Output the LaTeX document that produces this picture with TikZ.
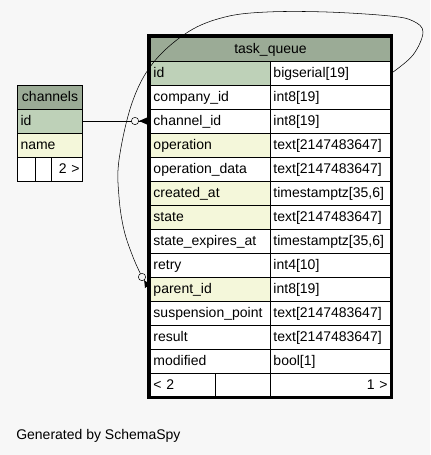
\documentclass[tikz,border=0pt]{standalone}
\usepackage{fontspec}
\setmainfont{Liberation Sans}
\usetikzlibrary{positioning}

\definecolor{headgreen}{HTML}{9BAB96}
\definecolor{keygreen}{HTML}{BED1B8}
\definecolor{idxyellow}{HTML}{F4F7DA}
\definecolor{pagegray}{HTML}{F7F7F7}

\begin{document}
\begin{tikzpicture}[x=0.75pt,y=-0.75pt,font=\fontsize{10.5}{12}\selectfont,
	cell/.style={draw,line width=0.75pt,anchor=north west,minimum height=18pt,inner xsep=2.25pt,inner ysep=0pt,text height=7.5pt,text depth=2.25pt},
	namecell/.style={cell,text width=85.5pt,align=left},
	headcell/.style={cell,fill=headgreen,text width=175.5pt,align=center}]
	\useasboundingbox [fill=pagegray] (0,0) rectangle (430,455);
	% channels
	\node [cell,fill=headgreen,text width=44.25pt,align=center] (ch-head) at (17,85) {channels};
	\node [cell,fill=keygreen,text width=44.25pt,align=left] (ch-id) at (17,109) {id};
	\node [cell,fill=idxyellow,text width=44.25pt,align=left] (ch-name) at (17,133) {name};
	\node [cell,fill=white,minimum width=13.5pt] (ch-f1) at (17,157) {};
	\node [cell,fill=white,minimum width=12pt] (ch-f2) at (35,157) {};
	\node [cell,fill=white,text width=18.75pt,align=right] (ch-f3) at (51,157) {2 >};
	% task_queue
	\node [headcell] (tq-head) at (150,37) {task\_queue};
	\foreach \key/\name/\type/\bg [count=\i] in {
		id/id/bigserial[19]/keygreen,
		company/company\_id/int8[19]/white,
		channel/channel\_id/int8[19]/white,
		operation/operation/text[2147483647]/idxyellow,
		data/operation\_data/text[2147483647]/white,
		created/created\_at/{timestamptz[35,6]}/idxyellow,
		state/state/text[2147483647]/idxyellow,
		expires/state\_expires\_at/{timestamptz[35,6]}/white,
		retry/retry/int4[10]/white,
		parent/parent\_id/int8[19]/idxyellow,
		suspension/suspension\_point/text[2147483647]/white,
		result/result/text[2147483647]/white,
		modified/modified/bool[1]/white} {
		\node [namecell,fill=\bg] (tq-\key) at (150,37+24*\i) {\name};
		\node [namecell,fill=white] (tqt-\key) at (270,37+24*\i) {\type};
	}
	\node [cell,fill=white,text width=44.25pt,align=left] (tq-prev) at (150,373) {< 2};
	\node [cell,fill=white,minimum width=41.25pt] (tq-gap) at (215,373) {};
	\node [namecell,fill=white,align=right] (tq-next) at (270,373) {1 >};
	\draw [line width=2.25pt] (148.5,35.5) rectangle (391.5,397.5);
	% relations
	\draw (ch-id.east) -- (tq-channel.west);
	\draw [fill=pagegray] (135,121) circle [radius=2.75pt];
	\fill (139,121) -- (147,117.5) -- (147,124.5) -- cycle;
	\draw plot [smooth,tension=0.6] coordinates {(tqt-id.east) (413,55) (423,32) (413,21) (390,16) (327,12) (267,12) (225,17) (188,32) (153,63) (132,103) (119,160) (119,197) (124,230) (133,257) (142,277)} -- (tq-parent.west);
	\draw [fill=pagegray] (142,277) circle [radius=2.75pt];
	\fill (144.2,280.4) -- (145,288) -- (150.5,284.3) -- cycle;
	\node [anchor=base west,inner sep=0pt] (credit) at (16,439) {Generated by SchemaSpy};
\end{tikzpicture}
\end{document}
